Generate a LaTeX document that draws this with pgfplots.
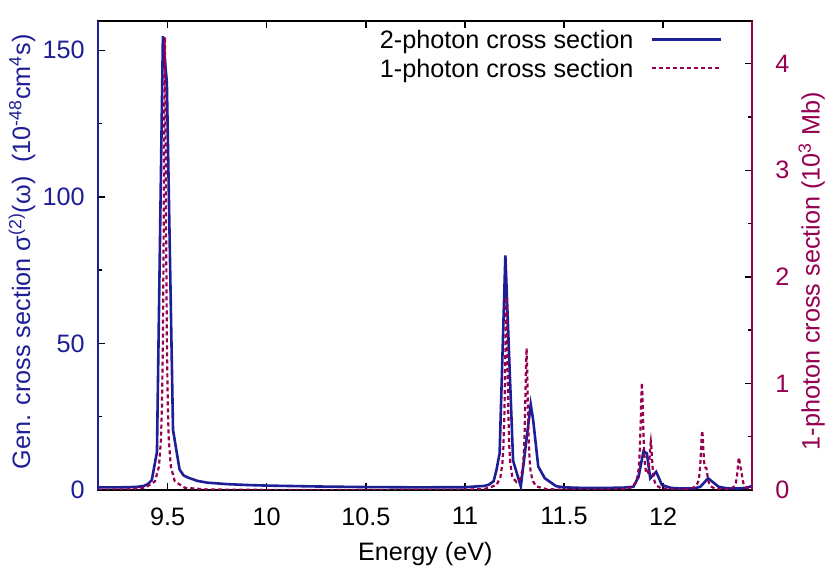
\documentclass[border=0pt]{standalone}
\usepackage{fontspec}
\setmainfont{Liberation Sans}
\usepackage{pgfplots}
\pgfplotsset{compat=1.18}
\definecolor{blueC}{RGB}{30,30,150}
\definecolor{magC}{RGB}{150,0,80}
\begin{document}
\fontsize{12.6}{15.1}\selectfont
\begin{tikzpicture}
\begin{axis}[name=ax1, scale only axis, width=327pt, height=234.5pt,
 xmin=9.15, xmax=12.45, ymin=0, ymax=160,
 xtick={9.5,10,10.5,11,11.5,12}, xticklabels={9.5,10,10.5,11,11.5,12},
 ytick={0,50,100,150}, yticklabels={0,50,100,150}, minor ytick={25,75,125},
 xtick pos=both, ytick pos=left, tick align=inside,
 major tick length=3.5pt, minor tick length=2pt,
 every tick/.style={black, line width=0.7pt},
 axis line style={line width=0.9pt, black},
 /pgf/number format/assume math mode=true,
 yticklabel style={blueC, xshift=-2.4pt},
 xticklabel style={yshift=-4.4pt},
 xlabel={Energy (eV)},
 xlabel style={at={(axis description cs:0.5,-0.1507)}, anchor=base},
 ylabel={Gen. cross section σ\textsuperscript{(2)}(ω)\ \ (10\textsuperscript{-48}cm\textsuperscript{4}s)},
 ylabel style={blueC, at={(axis description cs:-0.1167,0.508)}, anchor=center},
]
\addplot[blueC, line width=1.3pt] coordinates {
(9.15,0.9)(9.2,0.9)(9.25,0.9)(9.3,0.95)(9.35,1.1)(9.38,1.4)(9.40,2.0)(9.42,3.4)(9.446,13)(9.476,154.8)(9.496,139)(9.527,20.5)(9.56,7)(9.58,5)(9.6,4.3)(9.65,3.1)(9.7,2.5)(9.8,2.0)(9.9,1.7)(10.0,1.5)(10.25,1.2)(10.5,1.0)(10.75,0.9)(11.0,0.95)(11.1,1.4)(11.12,1.8)(11.145,3)(11.159,6.8)(11.175,12.5)(11.204,80)(11.243,10)(11.282,1.2)(11.332,29.2)(11.344,24)(11.37,8)(11.403,4)(11.46,1.3)(11.5,0.9)(11.6,0.7)(11.7,0.7)(11.8,0.8)(11.85,1.1)(11.876,4.5)(11.901,13.2)(11.918,12.5)(11.935,4)(11.965,6.2)(11.994,1.7)(12.04,0.7)(12.1,0.5)(12.16,0.6)(12.188,1.1)(12.227,4)(12.28,1.1)(12.32,0.6)(12.38,0.5)(12.424,0.8)(12.45,1.4)
};
\end{axis}
\begin{axis}[scale only axis, width=327pt, height=234.5pt,
 xmin=9.15, xmax=12.45, ymin=0, ymax=4.4,
 hide x axis, axis y line*=right,
 ytick={0,1,2,3,4}, yticklabels={0,1,2,3,4}, minor ytick={0.5,1.5,2.5,3.5},
 tick align=inside, major tick length=3.5pt, minor tick length=2pt,
 every tick/.style={black, line width=0.7pt},
 y axis line style={-, magC, line width=0.9pt},
 /pgf/number format/assume math mode=true,
 yticklabel style={magC, xshift=7.1pt},
 ylabel={1-photon cross section (10\textsuperscript{3} Mb)},
 ylabel style={magC, at={(axis description cs:1.0908,0.467)}, anchor=center},
 legend style={at={(axis description cs:0.9537,0.9793)}, anchor=north east, draw=none, fill=none,
   inner sep=0pt, outer sep=0pt, row sep=3pt,
   nodes={inner sep=0pt, text height=9pt, text depth=2.5pt},
   /tikz/every odd column/.append style={column sep=8.5pt}},
 legend cell align=right, legend plot pos=right,
 legend image code/.code={\draw[#1] (0pt,1.5pt) -- (34.5pt,1.5pt);},
]
\addlegendimage{blueC, line width=1.3pt}
\addlegendentry{2-photon cross section}
\addplot[magC, line width=1.1pt, dash pattern=on 2pt off 1.5pt] coordinates {
(9.15,0.002)(9.3,0.006)(9.386,0.021)(9.436,0.081)(9.456,0.219)(9.466,0.463)(9.471,0.761)(9.476,1.394)(9.48,2.444)(9.483,3.592)(9.486,4.25)(9.489,3.592)(9.492,2.444)(9.496,1.394)(9.501,0.761)(9.506,0.463)(9.516,0.219)(9.536,0.081)(9.586,0.021)(9.7,0.0045)(10.0,0.001)(10.5,0.0005)(11.0,0.003)(11.1,0.010)(11.159,0.045)(11.179,0.120)(11.189,0.249)(11.194,0.400)(11.199,0.704)(11.203,1.154)(11.206,1.584)(11.209,1.81)(11.212,1.584)(11.215,1.154)(11.219,0.704)(11.224,0.400)(11.229,0.249)(11.239,0.120)(11.26,0.075)(11.281,0.110)(11.291,0.200)(11.296,0.307)(11.301,0.528)(11.305,0.858)(11.308,1.158)(11.311,1.33)(11.314,1.154)(11.317,0.845)(11.321,0.515)(11.326,0.291)(11.331,0.182)(11.341,0.088)(11.361,0.033)(11.411,0.0084)(11.5,0.0023)(11.6,0.002)(11.7,0.0018)(11.793,0.0064)(11.843,0.025)(11.863,0.072)(11.873,0.142)(11.878,0.225)(11.883,0.396)(11.887,0.646)(11.89,0.876)(11.893,1.006)(11.896,0.882)(11.899,0.647)(11.903,0.398)(11.908,0.249)(11.913,0.177)(11.918,0.151)(11.923,0.160)(11.928,0.214)(11.932,0.311)(11.935,0.405)(11.938,0.452)(11.941,0.396)(11.944,0.294)(11.948,0.185)(11.953,0.111)(11.958,0.0735)(11.968,0.040)(11.988,0.018)(12.04,0.006)(12.1,0.005)(12.147,0.016)(12.167,0.040)(12.177,0.080)(12.182,0.127)(12.187,0.22)(12.191,0.358)(12.194,0.489)(12.197,0.557)(12.2,0.502)(12.203,0.38)(12.207,0.26)(12.211,0.212)(12.215,0.21)(12.218,0.206)(12.221,0.175)(12.225,0.118)(12.23,0.072)(12.24,0.034)(12.26,0.014)(12.3,0.008)(12.33,0.008)(12.352,0.022)(12.362,0.044)(12.367,0.068)(12.372,0.118)(12.376,0.191)(12.379,0.262)(12.382,0.304)(12.385,0.283)(12.388,0.237)(12.391,0.208)(12.394,0.182)(12.397,0.147)(12.401,0.097)(12.406,0.058)(12.416,0.026)(12.436,0.01)(12.45,0.007)
};
\addlegendentry{1-photon cross section}
\end{axis}
\draw[blueC, line width=0.9pt] (0pt,0pt) -- (0pt,234.5pt);
\pgfresetboundingbox
\path[use as bounding box] (-49.15pt,-45.5pt) rectangle (365.85pt,245pt);
\end{tikzpicture}
\end{document}
